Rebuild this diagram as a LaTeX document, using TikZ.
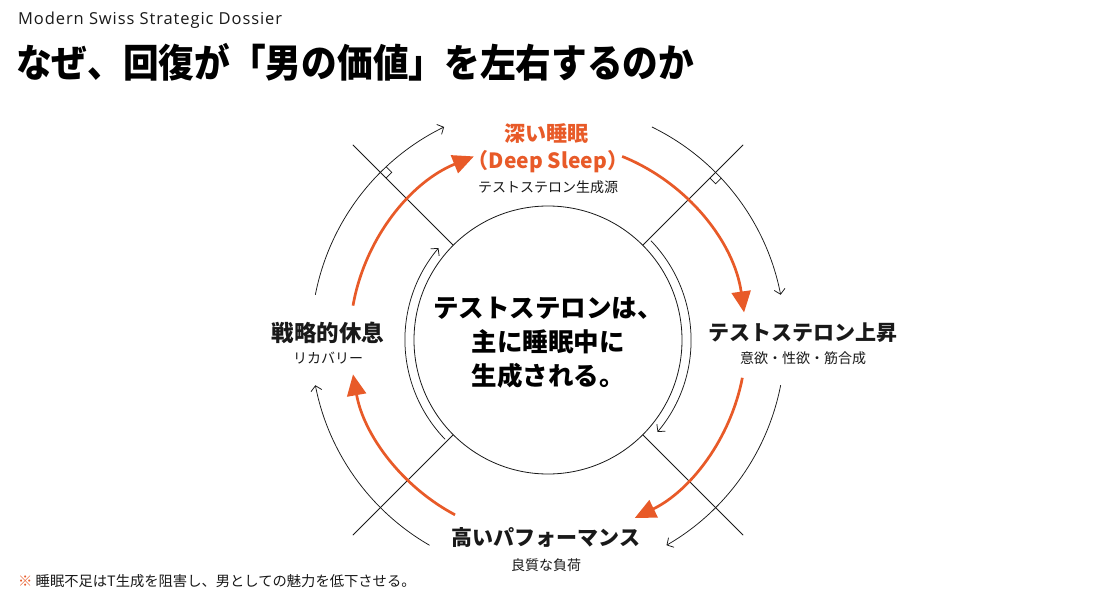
\documentclass[tikz,border=0pt]{standalone}
\usepackage{fontspec}
\setmainfont{Noto Sans CJK JP}
\newfontfamily\kickerfont{Open Sans}[LetterSpace=5.5]
\usetikzlibrary{arrows.meta}
\definecolor{accent}{RGB}{232,90,40}
\definecolor{ink}{RGB}{25,25,25}
\begin{document}
\begin{tikzpicture}[x=1pt,y=1pt,
  orangearc/.style={draw=accent, line width=2.7pt, -{Triangle[length=21pt,width=19pt]}},
  thinarc/.style={draw=ink, line width=0.75pt, -{Straight Barb[length=5pt,width=11pt,line width=0.75pt]}},
  plainline/.style={draw=ink, line width=0.75pt},
  lbl/.style={inner sep=0pt, text=ink, align=center},
  headlbl/.style={lbl, font=\fontsize{21}{24}\selectfont\bfseries},
  sublbl/.style={lbl, font=\fontsize{14}{16}\selectfont}]
\useasboundingbox (0,0) rectangle (1100,598);
\fill[white] (0,0) rectangle (1100,598);
\coordinate (C) at (548,258);

% header
\node[lbl, anchor=west, font=\kickerfont\fontsize{16.5}{18}\selectfont] (kicker) at (18,578) {Modern Swiss Strategic Dossier};
\node[lbl, anchor=west, text=black, font=\fontsize{39}{42}\selectfont\bfseries] (title) at (16,536) {\scalebox{0.915}[1]{なぜ、回復が「男の価値」を左右するのか}};

% core circle
\node[circle, draw=ink, line width=0.8pt, minimum size=268pt, inner sep=0pt] (core) at (C) {};
\node[lbl, text=black, font=\fontsize{25.5}{34}\selectfont\bfseries] (coretext) at (548,255) {テストステロンは、\\主に睡眠中に\\生成される。};

% radial lines
\path (C) ++(45:276) coordinate (o45);
\path (C) ++(135:276) coordinate (o135);
\path (C) ++(225:276) coordinate (o225);
\path (C) ++(315:276) coordinate (o315);
\draw[plainline] (core.45) -- (o45);
\draw[plainline] (core.135) -- (o135);
\draw[plainline] (core.225) -- (o225);
\draw[plainline] (core.315) -- (o315);

% inner arcs
\draw[thinarc] (C) ++(224:143) arc[start angle=224, end angle=140, radius=143];
\draw[thinarc] (C) ++(44:143) arc[start angle=44, end angle=-40, radius=143];

% outer arcs
\draw[thinarc] (C) ++(169:237) arc[start angle=169, end angle=116, radius=237];
\draw[thinarc] (C) ++(64:237) arc[start angle=64, end angle=11, radius=237];
\draw[thinarc] (C) ++(-11:237) arc[start angle=-11, end angle=-60, radius=237];
\draw[thinarc] (C) ++(240:237) arc[start angle=240, end angle=191, radius=237];

% right-angle marks
\draw[plainline] (C) ++(135:237) ++(45:8) -- ++(315:8) -- ++(225:8);
\draw[plainline] (C) ++(45:237) ++(-45:8) -- ++(225:8) -- ++(135:8);

% orange cycle arcs
\draw[orangearc] (C) ++(170:198) arc[start angle=170, end angle=112, radius=198];
\draw[orangearc] (C) ++(68:198) arc[start angle=68, end angle=8, radius=198];
\draw[orangearc] (C) ++(-11:198) arc[start angle=-11, end angle=-64, radius=198];
\draw[orangearc] (C) ++(242:198) arc[start angle=242, end angle=190, radius=198];

% top label
\node[headlbl, text=accent] (sleep1) at (546,465) {深い睡眠};
\node[headlbl, text=accent] (sleep2) at (548,436) {（Deep Sleep）};
\node[sublbl] (sleep3) at (548,411) {テストステロン生成源};

% right label
\node[headlbl] (rise1) at (803,265) {テストステロン上昇};
\node[sublbl] (rise2) at (803,240) {意欲・性欲・筋合成};

% bottom label
\node[headlbl] (perf1) at (546,60) {高いパフォーマンス};
\node[sublbl] (perf2) at (546,33) {良質な負荷};

% left label
\node[headlbl, font=\fontsize{22.5}{24}\selectfont\bfseries] (rest1) at (328,265) {戦略的休息};
\node[sublbl] (rest2) at (328,240) {リカバリー};

% footnote
\node[lbl, anchor=west, font=\fontsize{14.3}{16}\selectfont] (note) at (18,17) {\textcolor{accent}{※}\ 睡眠不足はT生成を阻害し、男としての魅力を低下させる。};
\end{tikzpicture}
\end{document}
